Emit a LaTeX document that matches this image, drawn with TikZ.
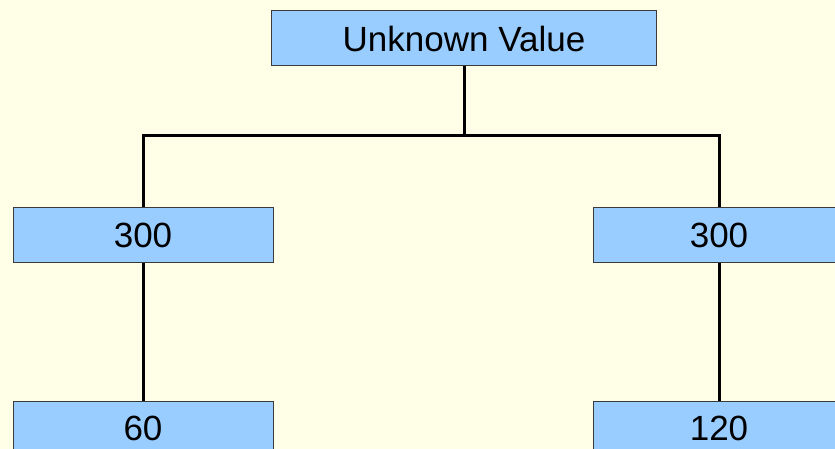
\documentclass[tikz,border=0pt]{standalone}
\usepackage{fontspec}
\setmainfont{Liberation Sans}
\definecolor{bgc}{HTML}{FFFFE8}
\definecolor{boxc}{HTML}{99CCFF}
\definecolor{edgec}{HTML}{3A3A3A}
\tikzset{
  valbox/.style={draw=edgec, line width=1pt, fill=boxc, inner sep=0pt,
    minimum height=55pt, font=\fontsize{35}{40}\selectfont, anchor=center},
  link/.style={draw=black, line width=3pt}
}
\begin{document}
\begin{tikzpicture}[x=1pt,y=-1pt]
\fill[bgc] (0,0) rectangle (835,449);
\useasboundingbox (0,0) rectangle (835,449);
\clip (0,0) rectangle (835,449);
\node[valbox, minimum width=385pt] (top) at (464,38.5) {Unknown Value};
\node[valbox, minimum width=260pt] (ml) at (143,235) {300};
\node[valbox, minimum width=252pt] (mr) at (719,235) {300};
\node[valbox, minimum width=260pt] (bl) at (143,428.5) {60};
\node[valbox, minimum width=252pt] (br) at (719,428.5) {120};
\coordinate (j) at (464,136);
\draw[link] (top.south) -- (j);
\draw[link] (ml.north) |- (j) -| (mr.north);
\draw[link] (ml.south) -- (bl.north);
\draw[link] (mr.south) -- (br.north);
\end{tikzpicture}
\end{document}
